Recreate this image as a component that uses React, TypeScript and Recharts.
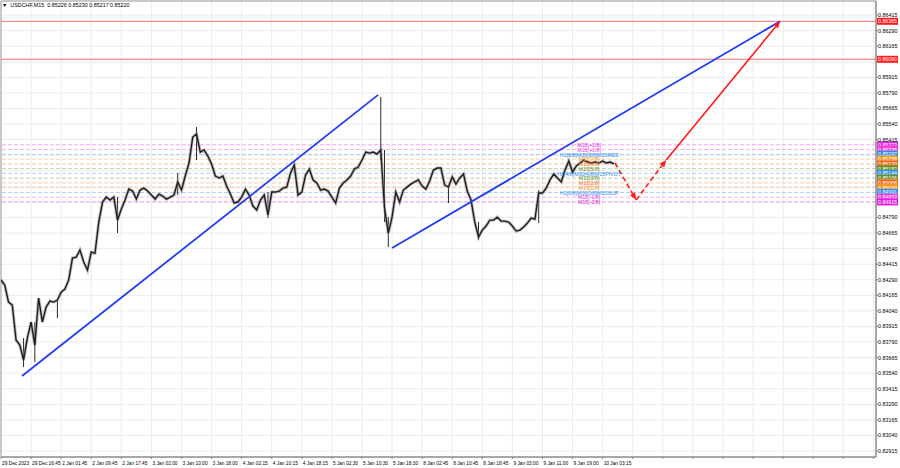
import {
    ComposedChart,
    Line,
    XAxis,
    YAxis,
    CartesianGrid,
    ReferenceLine,
    ReferenceDot,
    ReferenceArea,
} from 'recharts';

// hourly closes, USDCHF M15 chart (one point per 4 bars)
const closes = [
    0.84288, 0.84247, 0.84111, 0.84087, 0.83806, 0.83766, 0.83645, 0.83822, 0.8395, 0.83766,
    0.84143, 0.8395, 0.84071, 0.84119, 0.84111, 0.84127, 0.84191, 0.84215, 0.84288, 0.84464,
    0.84472, 0.84529, 0.84432, 0.84368, 0.84512, 0.84504, 0.84753, 0.84914, 0.84954, 0.8493,
    0.84954, 0.84769, 0.84858, 0.8493, 0.85018, 0.85002, 0.84938, 0.8501, 0.85026, 0.85002,
    0.8497, 0.84938, 0.84978, 0.84962, 0.84938, 0.84954, 0.8497, 0.85075, 0.8501, 0.85123,
    0.85227, 0.85436, 0.8546, 0.85315, 0.85332, 0.85283, 0.85219, 0.85123, 0.85107, 0.85123,
    0.85042, 0.84978, 0.84906, 0.84914, 0.84954, 0.85018, 0.8497, 0.84882, 0.8485, 0.8493,
    0.8497, 0.8481, 0.84994, 0.84994, 0.85002, 0.85026, 0.85034, 0.85147, 0.85211, 0.8497,
    0.84994, 0.85131, 0.85179, 0.85091, 0.85067, 0.8501, 0.85018, 0.85002, 0.84954, 0.84906,
    0.85026, 0.85067, 0.85091, 0.85123, 0.85179, 0.85195, 0.85251, 0.85315, 0.85307, 0.85315,
    0.85299, 0.85332, 0.84866, 0.84665, 0.84793, 0.84994, 0.84914, 0.8501, 0.85034, 0.85058,
    0.85075, 0.85091, 0.85042, 0.85018, 0.85083, 0.85171, 0.85187, 0.85187, 0.8505, 0.85034,
    0.85115, 0.85058, 0.85107, 0.85139, 0.85002, 0.8493, 0.84753, 0.84633, 0.84689, 0.84721,
    0.84769, 0.84769, 0.84793, 0.84761, 0.84761, 0.84753, 0.84721, 0.84681, 0.84689, 0.84713,
    0.84745, 0.84785, 0.84777, 0.84986, 0.84986, 0.85026, 0.85091, 0.85139, 0.85107, 0.85075,
    0.85171, 0.85243, 0.85155, 0.85203, 0.85227, 0.85251, 0.85235, 0.85227, 0.85235, 0.85227,
    0.85243, 0.85227, 0.85235, 0.8522,
];

// bars with long wicks
const spikeIdx = [6, 9, 15, 31, 47, 52, 71, 101, 102, 103, 119, 127, 143];
const spikeLow = [0.83589, 0.83629, 0.83982, 0.84665, 0.8497, 0.85251, 0.84785, 0.85251, 0.84753, 0.84553, 0.84906, 0.84609, 0.84745];
const spikeHigh = [0.83822, 0.8395, 0.84127, 0.84954, 0.85147, 0.85516, 0.84994, 0.85757, 0.85332, 0.84793, 0.85034, 0.84753, 0.8501];

const timeLabels = [
    '29 Dec 2023', '29 Dec 16:45', '2 Jan 01:45', '2 Jan 09:45', '2 Jan 17:45', '3 Jan 02:00',
    '3 Jan 10:00', '3 Jan 18:00', '4 Jan 02:15', '4 Jan 10:15', '4 Jan 18:15', '5 Jan 02:30',
    '5 Jan 10:30', '5 Jan 18:30', '8 Jan 02:45', '8 Jan 10:45', '8 Jan 18:45', '9 Jan 03:00',
    '9 Jan 11:00', '9 Jan 19:00', '10 Jan 03:15',
];

const priceTicks = [
    0.82915, 0.8304, 0.83165, 0.8329, 0.83415, 0.8354, 0.83665, 0.8379, 0.83915, 0.8404,
    0.84165, 0.8429, 0.84415, 0.8454, 0.84665, 0.8479, 0.84915, 0.8504, 0.85165, 0.8529,
    0.85415, 0.8554, 0.85665, 0.8579, 0.85915, 0.8604, 0.86165, 0.8629, 0.86415,
];

// Murrey math levels (+2/8 .. -2/8)
const mmLevels = [0.85373, 0.85335, 0.85297, 0.85258, 0.8522, 0.85182, 0.85144, 0.85106, 0.85068, 0.8503, 0.84991, 0.84953, 0.84915];
const mmNames = [
    'M15[+2/8]', 'M15[+1/8]', 'H1[8/8]M30[8/8]M15RES', 'M15[7/8]', 'M15[6/8]', 'M15[5/8]',
    'H1[4/8]M30[4/8]M15PIVOT', 'M15[3/8]', 'M15[2/8]', 'M15[1/8]', 'H1[0/8]M30[0/8]M15SUP',
    'M15[-1/8]', 'M15[-2/8]',
];
const mmColors = [
    '#e21ee2', '#f03cd8', '#2b8cf0', '#f7931e', '#f56a1a', '#6b8e23', '#2b8cf0',
    '#6b8e23', '#f56a1a', '#f7931e', '#2b8cf0', '#f03cd8', '#e21ee2',
];

const redLevels = [0.86365, 0.8606];

// drawn objects: [t1, p1, t2, p2]
const blueLines = [
    [5.6, 0.83517, 100.3, 0.85774],
    [104.0, 0.84545, 207.2, 0.86365],
];
const redDashed = [
    [163.3, 0.85228, 168.9, 0.84931],
    [168.9, 0.84931, 176.9, 0.85252],
];
const redSolid = [[176.9, 0.85252, 207.2, 0.86365]];

const X_MAX = 232.7;
const Y_MIN = 0.82867;
const Y_MAX = 0.86528;
const LABEL_AT = 156.4;
const FONT = '"Liberation Sans", Arial, sans-serif';

const data = closes.map((close, i) => ({ i, close }));
const xTicks = Array.from({ length: 30 }, (_, k) => k * 8);

const TimeTick = (props: any) => {
    const { x, y, payload } = props;
    const label = timeLabels[Math.round(payload.value / 8)] ?? '';
    return (
        <text x={x + 1} y={y + 4} fontSize={4.8} fill="#000" fontFamily={FONT} textAnchor="start">
            {label}
        </text>
    );
};

const PriceTick = (props: any) => {
    const { x, y, payload } = props;
    const covered = [...mmLevels, ...redLevels].some((l) => Math.abs(l - payload.value) < 0.0003);
    if (covered) return <g />;
    return (
        <text x={x} y={y + 2} fontSize={5.4} fill="#000" fontFamily={FONT} textAnchor="start">
            {payload.value.toFixed(5)}
        </text>
    );
};

const priceBox = (text: string, color: string) => (props: any) => {
    const vb = props.viewBox;
    const bx = vb.x + vb.width + 1;
    return (
        <g>
            <rect x={bx} y={vb.y - 3.5} width={21} height={7} fill={color} />
            <text
                x={bx + 1}
                y={vb.y + 2}
                fontSize={5.4}
                fill="#fff"
                fontFamily={FONT}
                textLength={19}
                lengthAdjust="spacingAndGlyphs"
            >
                {text}
            </text>
        </g>
    );
};

const arrowShape = (color: string, dashed: boolean) => (props: any) => {
    const { x1, y1, x2, y2 } = props;
    const a = Math.atan2(y2 - y1, x2 - x1);
    const len = 7;
    const w = 3;
    const bx = x2 - len * Math.cos(a);
    const by = y2 - len * Math.sin(a);
    const px = -Math.sin(a) * w;
    const py = Math.cos(a) * w;
    return (
        <g>
            <line x1={x1} y1={y1} x2={bx} y2={by} stroke={color} strokeWidth={1.6} strokeDasharray={dashed ? '5 3' : undefined} />
            <polygon points={`${x2},${y2} ${bx + px},${by + py} ${bx - px},${by - py}`} fill={color} />
        </g>
    );
};

export default function App() {
    return (
        <div style={{ position: 'absolute', left: 0, top: 0, width: 900, height: 468, background: '#fff' }}>
            <ComposedChart width={900} height={468} data={data} margin={{ top: 1, right: 0, bottom: 0, left: 1 }}>
                <CartesianGrid stroke="#ececec" />
                <XAxis
                    dataKey="i"
                    type="number"
                    domain={[0, X_MAX]}
                    ticks={xTicks}
                    allowDataOverflow
                    height={11}
                    tickSize={2}
                    tickLine={{ stroke: '#888' }}
                    axisLine={{ stroke: '#888' }}
                    tick={<TimeTick />}
                    interval={0}
                />
                <YAxis
                    orientation="right"
                    type="number"
                    domain={[Y_MIN, Y_MAX]}
                    ticks={priceTicks}
                    allowDataOverflow
                    width={24}
                    tickSize={2}
                    tickMargin={0}
                    tickLine={{ stroke: '#888' }}
                    axisLine={{ stroke: '#888' }}
                    tick={<PriceTick />}
                    interval={0}
                />
                <ReferenceArea x1={0} x2={X_MAX} y1={Y_MIN} y2={Y_MAX} fill="none" stroke="#9a9a9a" />

                {redLevels.map((lv) => (
                    <ReferenceLine
                        key={`r-${lv}`}
                        y={lv}
                        stroke="#f07070"
                        strokeWidth={1}
                        label={priceBox(lv.toFixed(5), '#ff1a1a')}
                    />
                ))}
                {mmLevels.map((lv, k) => (
                    <ReferenceLine
                        key={`mm-${k}`}
                        y={lv}
                        stroke={mmColors[k]}
                        strokeOpacity={0.4}
                        strokeDasharray="4 2"
                        label={priceBox(lv.toFixed(5), mmColors[k])}
                    />
                ))}

                {spikeIdx.map((idx, k) => (
                    <ReferenceLine
                        key={`w-${k}`}
                        segment={[{ x: idx, y: spikeLow[k] }, { x: idx, y: spikeHigh[k] }]}
                        stroke="#2a2a2a"
                        strokeWidth={1}
                    />
                ))}
                <Line
                    type="linear"
                    dataKey="close"
                    stroke="#8c8c8c"
                    strokeOpacity={0.55}
                    strokeWidth={3.2}
                    dot={false}
                    activeDot={false}
                    isAnimationActive={false}
                />
                <Line
                    type="linear"
                    dataKey="close"
                    stroke="#1e1e1e"
                    strokeWidth={1.4}
                    dot={false}
                    isAnimationActive={false}
                />

                {mmLevels.map((lv, k) => (
                    <ReferenceDot
                        key={`t-${k}`}
                        x={LABEL_AT}
                        y={lv}
                        r={0}
                        shape={(p: any) => (
                            <text
                                x={p.cx}
                                y={p.cy + 2.3}
                                fontSize={5.3}
                                fill={mmColors[k]}
                                fontFamily={FONT}
                                textAnchor="middle"
                            >
                                {mmNames[k]}
                            </text>
                        )}
                    />
                ))}

                {blueLines.map((s, k) => (
                    <ReferenceLine
                        key={`b-${k}`}
                        segment={[{ x: s[0], y: s[1] }, { x: s[2], y: s[3] }]}
                        stroke="#1f3df5"
                        strokeWidth={1.8}
                    />
                ))}
                {redDashed.map((s, k) => (
                    <ReferenceLine
                        key={`rd-${k}`}
                        segment={[{ x: s[0], y: s[1] }, { x: s[2], y: s[3] }]}
                        shape={arrowShape('#ff1a1a', true)}
                    />
                ))}
                {redSolid.map((s, k) => (
                    <ReferenceLine
                        key={`rs-${k}`}
                        segment={[{ x: s[0], y: s[1] }, { x: s[2], y: s[3] }]}
                        shape={arrowShape('#ff1a1a', false)}
                    />
                ))}
            </ComposedChart>
            <div
                style={{
                    position: 'absolute',
                    left: 2,
                    top: 1,
                    fontFamily: FONT,
                    fontSize: 5.4,
                    color: '#000',
                    whiteSpace: 'pre',
                    lineHeight: '8px',
                }}
            >
                {'▼  USDCHF,M15  0.85226 0.85230 0.85217 0.85220'}
            </div>
        </div>
    );
}
